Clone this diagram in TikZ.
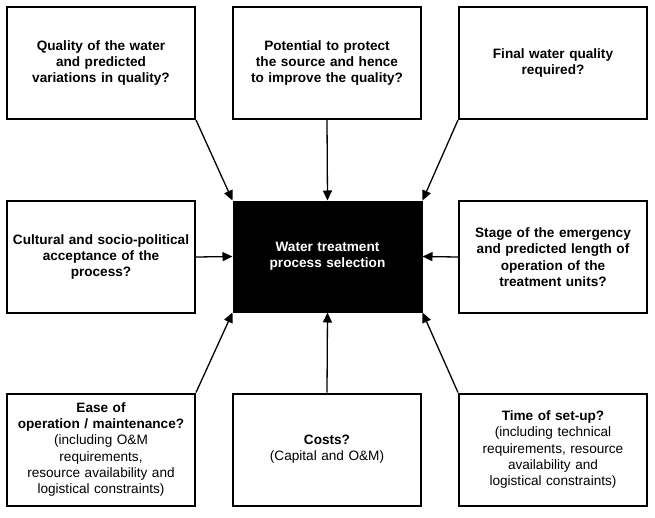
\documentclass[tikz,border=0pt]{standalone}
\usepackage{fontspec}
\setmainfont{Liberation Sans}
\usetikzlibrary{arrows.meta}
\begin{document}
\begin{tikzpicture}[x=1pt,y=-1pt,
  qbox/.style={draw=black,line width=2pt,minimum width=188pt,minimum height=112pt,text width=184pt,align=center,inner sep=0pt,font=\fontsize{13.6}{16.3}\selectfont,fill=white},
  core/.style={draw=black,fill=black,text=white,line width=1pt,minimum width=189pt,minimum height=111pt,text width=184pt,align=center,inner sep=0pt,font=\fontsize{13.6}{16.3}\selectfont\bfseries},
  conn/.style={line width=1.3pt,-{Triangle[length=10pt,width=9pt]}}]
\useasboundingbox (0,0) rectangle (655,517);
\fill[white] (0,0) rectangle (655,517);
\node[core] (c) at (327.5,256.5) {Water treatment\\process selection};
\node[qbox] (tl) at (101,63) {\textbf{Quality of the water\\and predicted\\variations in quality?}};
\node[qbox] (tm) at (327,63) {\textbf{Potential to protect\\the source and hence\\to improve the quality?}};
\node[qbox] (tr) at (553,63) {\textbf{Final water quality\\required?}};
\node[qbox] (ml) at (101,257) {\textbf{Cultural and socio-political\\acceptance of the\\process?}};
\node[qbox] (mr) at (553,257) {\textbf{Stage of the emergency\\and predicted length of\\operation of the\\treatment units?}};
\node[qbox] (bl) at (101,449.5) {\textbf{Ease of\\operation / maintenance?}\\(including O\&M\\requirements,\\resource availability and\\logistical constraints)};
\node[qbox] (bm) at (327,449.5) {\textbf{Costs?}\\(Capital and O\&M)};
\node[qbox] (br) at (553,449.5) {\textbf{Time of set-up?}\\(including technical\\requirements, resource\\availability and\\logistical constraints)};
\draw[conn] (tl.south east) -- (c.north west);
\draw[conn] (tm.south) -- (c.north);
\draw[conn] (tr.south west) -- (c.north east);
\draw[conn] (ml.east) -- (c.west);
\draw[conn] (mr.west) -- (c.east);
\draw[conn] (bl.north east) -- (c.south west);
\draw[conn] (bm.north) -- (c.south);
\draw[conn] (br.north west) -- (c.south east);
\end{tikzpicture}
\end{document}
